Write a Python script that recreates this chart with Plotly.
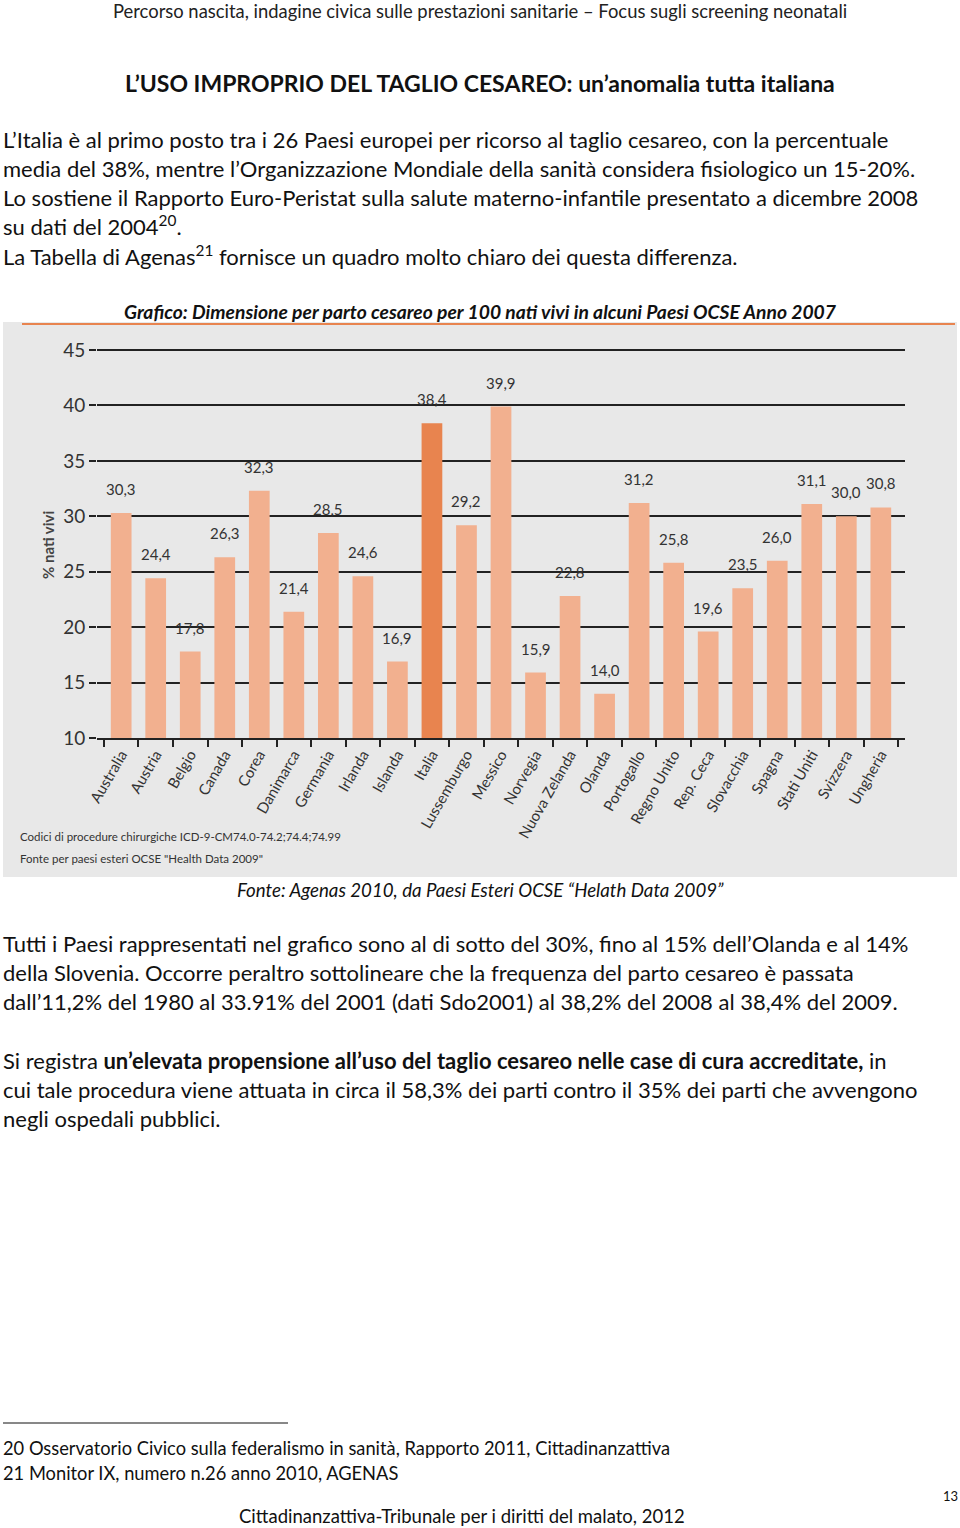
import plotly.graph_objects as go

W, H = 960, 1528

countries = ["Australia", "Austria", "Belgio", "Canada", "Corea", "Danimarca", "Germania",
             "Irlanda", "Islanda", "Italia", "Lussemburgo", "Messico", "Norvegia",
             "Nuova Zelanda", "Olanda", "Portogallo", "Regno Unito", "Rep. Ceca",
             "Slovacchia", "Spagna", "Stati Uniti", "Svizzera", "Ungheria"]
values = [30.3, 24.4, 17.8, 26.3, 32.3, 21.4, 28.5, 24.6, 16.9, 38.4, 29.2, 39.9, 15.9,
          22.8, 14.0, 31.2, 25.8, 19.6, 23.5, 26.0, 31.1, 30.0, 30.8]
highlight = "Italia"
y_ticks = [10, 15, 20, 25, 30, 35, 40, 45]

BODY = "Lato, 'Noto Sans', sans-serif"
CHART = "Lato, 'Liberation Sans Narrow', sans-serif"
LIGHT = "#F2B08F"
DARK = "#E8844F"


def py(p):
    return 1 - p / H


def pxx(p):
    return p / W


colors = [DARK if c == highlight else LIGHT for c in countries]
labels = [f"{v:.1f}".replace(".", ",") for v in values]

fig = go.Figure()
fig.add_trace(go.Bar(x=countries, y=values, marker=dict(color=colors, line=dict(width=0)),
                     width=0.6, hoverinfo="x+y"))

annotations = []
# value labels above bars
for c, v, t in zip(countries, values, labels):
    annotations.append(dict(x=c, y=v, xref="x", yref="y", text=t, showarrow=False,
                            yanchor="bottom", yshift=13,
                            font=dict(family=CHART, size=15, color="#333333")))


def txt(text, x, y, size=22, anchor="left", color="#111111", family=BODY):
    annotations.append(dict(x=pxx(x), y=py(y), xref="paper", yref="paper", text=text,
                            showarrow=False, xanchor=anchor, yanchor="middle",
                            font=dict(family=family, size=size, color=color)))


txt("Percorso nascita, indagine civica sulle prestazioni sanitarie – Focus sugli screening neonatali",
    480, 11, size=18.4, anchor="center", color="#222222")
txt("<b>L’USO IMPROPRIO DEL TAGLIO CESAREO: un’anomalia tutta italiana</b>", 480, 83,
    size=23, anchor="center")

para1 = ["L’Italia è al primo posto tra i 26 Paesi europei per ricorso al taglio cesareo, con la percentuale",
         "media del 38%, mentre l’Organizzazione Mondiale della sanità considera fisiologico un 15-20%.",
         "Lo sostiene il Rapporto Euro-Peristat sulla salute materno-infantile presentato a dicembre 2008",
         "su dati del 2004<sup>20</sup>.",
         "La Tabella di Agenas<sup>21</sup> fornisce un quadro molto chiaro dei questa differenza."]
for i, line in enumerate(para1):
    txt(line, 1, 139 + 29 * i)

txt("<b><i>Grafico: Dimensione per parto cesareo per 100 nati vivi in alcuni Paesi OCSE Anno 2007</i></b>",
    480, 311, size=19.3, anchor="center")

txt("Codici di procedure chirurgiche ICD-9-CM74.0-74.2;74.4;74.99", 18, 836, size=11.5,
    color="#333333", family=CHART)
txt("Fonte per paesi esteri OCSE \"Health Data 2009\"", 18, 858, size=11.5,
    color="#333333", family=CHART)

annotations.append(dict(x=pxx(48), y=py(545), xref="paper", yref="paper",
                        text="<b>% nati vivi</b>", textangle=-90, showarrow=False,
                        xanchor="center", yanchor="middle",
                        font=dict(family=BODY, size=15, color="#444444")))

txt("<i>Fonte: Agenas 2010, da Paesi Esteri OCSE “Helath Data 2009”</i>", 480, 890,
    size=18.7, anchor="center")

para2 = ["Tutti i Paesi rappresentati nel grafico sono al di sotto del 30%, fino al 15% dell’Olanda e al 14%",
         "della Slovenia. Occorre peraltro sottolineare che la frequenza del parto cesareo è passata",
         "dall’11,2% del 1980 al 33.91% del 2001 (dati Sdo2001) al 38,2% del 2008 al 38,4% del 2009."]
for i, line in enumerate(para2):
    txt(line, 1, 943 + 29 * i)

para3 = ["Si registra <b>un’elevata propensione all’uso del taglio cesareo nelle case di cura accreditate,</b> in",
         "cui tale procedura viene attuata in circa il 58,3% dei parti contro il 35% dei parti che avvengono",
         "negli ospedali pubblici."]
for i, line in enumerate(para3):
    txt(line, 1, 1060 + 29 * i)

txt("20 Osservatorio Civico sulla federalismo in sanità, Rapporto 2011, Cittadinanzattiva", 1, 1448, size=18.3)
txt("21 Monitor IX, numero n.26 anno 2010, AGENAS", 1, 1473, size=18.3)
txt("13", 950, 1496, size=13, anchor="center")
txt("Cittadinanzattiva-Tribunale per i diritti del malato, 2012", 462, 1516, size=18.5, anchor="center")

shapes = [
    dict(type="rect", xref="paper", yref="paper", x0=pxx(3), x1=pxx(957), y0=py(877), y1=py(322),
         fillcolor="#E8E8E8", line=dict(width=0), layer="below"),
    dict(type="line", xref="paper", yref="paper", x0=pxx(22), x1=pxx(955), y0=py(324), y1=py(324),
         line=dict(color=DARK, width=2)),
    dict(type="line", xref="paper", yref="paper", x0=pxx(3), x1=pxx(288), y0=py(1423), y1=py(1423),
         line=dict(color="#111111", width=1)),
]

# y axis: 10 -> 738 px, 45 -> 350 px; extend range slightly so the 45 gridline is drawn
px_per_unit = (738 - 350) / 35.0
y_top = 45.4
fig.update_layout(
    width=W, height=H, margin=dict(l=0, r=0, t=0, b=0, pad=0, autoexpand=False),
    paper_bgcolor="white", plot_bgcolor="rgba(0,0,0,0)",
    showlegend=False, annotations=annotations, shapes=shapes,
    xaxis=dict(domain=[pxx(97), pxx(905)], range=[-0.7, 22.7], type="category",
               automargin=False,
               tickangle=-60, tickson="boundaries", ticks="outside", ticklen=7,
               tickcolor="#222222", tickwidth=2, showline=True, linecolor="#222222",
               linewidth=2, showgrid=False,
               tickfont=dict(family=CHART, size=15, color="#333333")),
    yaxis=dict(domain=[py(738), py(738 - (y_top - 10) * px_per_unit)], range=[10, y_top],
               automargin=False, tickvals=y_ticks,
               showgrid=True, gridcolor="#222222", gridwidth=2, zeroline=False,
               ticks="outside", ticklen=7, tickcolor="#222222", tickwidth=2,
               showline=False,
               tickfont=dict(family=CHART, size=19, color="#333333")),
)

fig.write_html("out.html",
               post_script="document.body.style.margin='0';document.body.style.padding='0';"
                           "document.body.style.overflow='hidden';")
